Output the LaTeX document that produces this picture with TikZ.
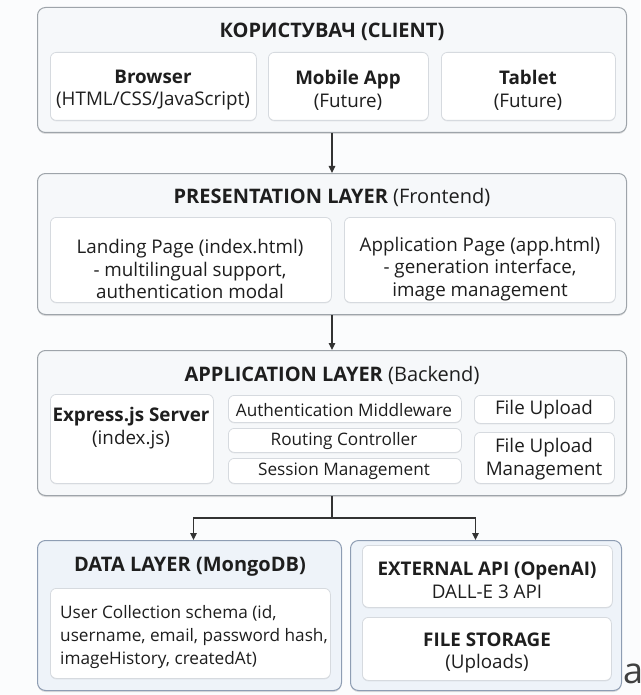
\documentclass[tikz,border=0pt]{standalone}
\usepackage{fontspec}
\setmainfont{Open Sans}
\usetikzlibrary{arrows.meta,shadows}

\definecolor{pagebg}{HTML}{FBFCFD}
\definecolor{layerfill}{HTML}{F6F8FA}
\definecolor{layerline}{HTML}{9EA4AA}
\definecolor{cellline}{HTML}{D6DADF}
\definecolor{storefill}{HTML}{EEF3F9}
\definecolor{storeline}{HTML}{8E9DB3}
\definecolor{ink}{HTML}{1E1E1E}
\definecolor{wire}{HTML}{333333}

\tikzset{
  layer/.style={draw=layerline, fill=layerfill, line width=1pt, rounded corners=8pt,
    anchor=north west, inner sep=0pt,
    drop shadow={shadow xshift=0pt, shadow yshift=-1.5pt, opacity=0.12, fill=black}},
  store/.style={layer, draw=storeline, fill=storefill},
  cell/.style={draw=cellline, fill=white, line width=0.8pt, rounded corners=6pt,
    anchor=north west, inner sep=0pt,
    drop shadow={shadow xshift=0pt, shadow yshift=-1pt, opacity=0.08, fill=black}},
  title/.style={font=\fontsize{20}{22}\selectfont, text=ink, inner sep=0pt},
  body/.style={font=\fontsize{18.8}{22.8}\selectfont, text=ink, align=center, inner sep=0pt},
  small/.style={body, font=\fontsize{17.2}{22.8}\selectfont},
  link/.style={draw=wire, line width=1.2pt},
  arr/.style={link, -{Triangle[length=7pt,width=6.5pt]}}
}

\begin{document}
\begin{tikzpicture}[x=1pt,y=-1pt]
\useasboundingbox (0,0) rectangle (640,695);
\fill[pagebg] (0,0) rectangle (640,695);

% Client tier
\node[layer, minimum width=589pt, minimum height=125pt] (client) at (37,7) {};
\node[title] (clientT) at (332,31.5) {\textbf{КОРИСТУВАЧ (CLIENT)}};
\node[cell, minimum width=206pt, minimum height=68pt] (browser) at (50,52) {};
\node[body] (browserT) at (153,90) {\textbf{Browser}\\(HTML/CSS/JavaScript)};
\node[cell, minimum width=160pt, minimum height=68pt] (mobile) at (268,52) {};
\node[body] (mobileT) at (348,90) {\textbf{Mobile App}\\(Future)};
\node[cell, minimum width=174pt, minimum height=68pt] (tablet) at (441,52) {};
\node[body] (tabletT) at (528,90) {\textbf{Tablet}\\(Future)};

% Presentation tier
\node[layer, minimum width=589pt, minimum height=141pt] (pres) at (37,173) {};
\node[title] (presT) at (332,197) {\textbf{PRESENTATION LAYER} (Frontend)};
\node[cell, minimum width=281pt, minimum height=85pt] (landing) at (50,217) {};
\node[body] (landingT) at (190,269) {Landing Page (index.html)\\- multilingual support,\\authentication modal};
\node[cell, minimum width=271pt, minimum height=85pt] (apppage) at (344,217) {};
\node[body] (apppageT) at (480,269) {Application Page (app.html)\\- generation interface,\\image management};

% Application tier
\node[layer, minimum width=589pt, minimum height=145pt] (app) at (37,350) {};
\node[title] (appT) at (332,375) {\textbf{APPLICATION LAYER} (Backend)};
\node[cell, minimum width=163pt, minimum height=89pt] (express) at (50,394) {};
\node[body] (expressT) at (131,428) {\textbf{Express.js Server}\\(index.js)};
\node[cell, minimum width=233pt, minimum height=27pt] (auth) at (228,395) {};
\node[small] (authT) at (344,410) {Authentication Middleware};
\node[cell, minimum width=233pt, minimum height=24pt] (routing) at (228,428) {};
\node[small] (routingT) at (344,441) {Routing Controller};
\node[cell, minimum width=233pt, minimum height=25pt] (session) at (228,458) {};
\node[small] (sessionT) at (344,471) {Session Management};
\node[cell, minimum width=140pt, minimum height=28pt] (upload) at (474,395) {};
\node[body] (uploadT) at (544,410) {File Upload};
\node[cell, minimum width=140pt, minimum height=51pt] (uploadmgmt) at (474,432) {};
\node[body] (uploadmgmtT) at (544,459) {File Upload\\Management};

% Data tier
\node[store, minimum width=304pt, minimum height=150pt] (data) at (37,540) {};
\node[title] (dataT) at (190,567) {\textbf{DATA LAYER (MongoDB)}};
\node[cell, minimum width=280pt, minimum height=90pt] (schema) at (50,588) {};
\node[small, align=left, anchor=west] (schemaT) at (60,637) {User Collection schema (id,\\username, email, password hash,\\imageHistory, createdAt)};

% External services
\node[store, minimum width=271pt, minimum height=150pt] (ext) at (350,540) {};
\node[cell, minimum width=250pt, minimum height=62pt] (openai) at (362,545) {};
\node[body] (openaiT) at (487,580) {\textbf{EXTERNAL API (OpenAI)}\\DALL-E 3 API};
\node[cell, minimum width=249pt, minimum height=63pt] (storage) at (362,617) {};
\node[body] (storageT) at (487,653) {\textbf{FILE STORAGE}\\(Uploads)};

\node[font=\fontsize{36}{36}\selectfont, text=ink!85, anchor=base west, inner sep=0pt] (stray) at (623,683) {a};

% Connectors
\draw[arr] (client.south) -- (pres.north);
\draw[arr] (pres.south) -- (app.north);
\draw[link] (app.south) -- ++(0,22) coordinate (junc);
\draw[arr] (junc) -| ([xshift=4pt]data.north);
\draw[arr] (junc) -| ([xshift=-10.5pt]ext.north);
\end{tikzpicture}
\end{document}
